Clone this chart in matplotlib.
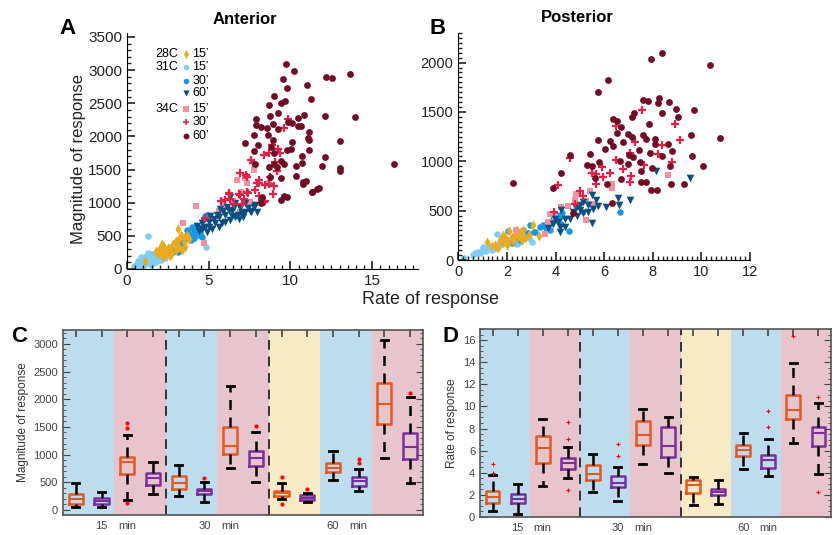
import numpy as np
import matplotlib.pyplot as plt
from matplotlib.ticker import MultipleLocator

plt.rcParams['font.family'] = ['Liberation Sans', 'DejaVu Sans']

# ---------------- panel A (anterior) : rate vs magnitude ----------------
a_28c15_rate = [1.1, 1.8, 1.9, 2.0, 2.1, 2.13, 2.23, 2.3, 2.4, 2.5, 2.64, 2.74, 2.8, 2.95, 3.0,
                3.11, 3.15, 3.2, 3.36, 3.46, 3.5, 3.56, 3.66, 3.8, 2.6, 3.3, 2.2, 3.0]
a_28c15_mag = [120, 277, 230, 320, 260, 377, 186, 290, 230, 320, 302, 236, 380, 362, 280,
               598, 437, 330, 287, 462, 400, 337, 513, 450, 200, 520, 340, 420]

a_31c15_rate = [0.45, 0.6, 0.7, 0.8, 0.9, 1.0, 1.1, 1.2, 1.3, 1.35, 1.5, 1.6, 1.7, 1.8, 1.9,
                2.0, 2.1, 2.2, 2.3, 2.4, 1.45, 1.15, 0.85, 2.5, 4.85, 1.75, 2.6, 1.0, 1.25,
                0.55, 0.75, 0.95, 1.05, 1.4, 1.55, 1.65, 2.05, 2.15, 1.95, 0.65, 1.3]
a_31c15_mag = [40, 60, 90, 120, 80, 140, 100, 160, 503, 120, 180, 140, 220, 170, 200,
               250, 210, 270, 160, 300, 60, 200, 180, 240, 337, 100, 330, 60, 90,
               20, 40, 30, 110, 150, 230, 110, 140, 320, 130, 120, 240]

a_31c30_rate = [2.6, 2.8, 3.0, 3.2, 3.35, 3.5, 3.66, 3.7, 3.87, 3.9, 3.97, 4.07, 4.17, 4.3,
                4.38, 4.45, 4.58, 4.74, 4.89, 4.79, 4.32, 3.3, 3.55, 4.0, 4.2, 2.9, 3.1,
                3.75, 4.1, 4.5, 3.4]
a_31c30_mag = [240, 260, 300, 330, 336, 420, 588, 520, 477, 430, 638, 467, 563, 600,
               508, 540, 487, 749, 814, 799, 628, 380, 470, 520, 650, 330, 250,
               560, 590, 620, 350]

a_31c60_rate = [4.27, 4.58, 4.99, 5.30, 5.60, 6.01, 6.42, 6.11, 6.52, 6.93, 7.24, 7.55, 6.83,
                6.01, 5.60, 5.19, 4.79, 7.03, 7.96, 7.75, 7.24, 6.62, 6.22, 5.81, 5.09, 4.38,
                6.32, 7.6, 7.8, 8.2, 5.9, 5.4, 5.0, 4.6, 6.6, 7.1, 6.3, 5.5, 4.9, 6.8, 5.7,
                7.4, 6.45]
a_31c60_mag = [649, 689, 714, 749, 779, 815, 880, 940, 940, 915, 865, 880, 749,
               714, 638, 598, 638, 840, 865, 940, 990, 1000, 890, 694, 799, 568,
               1091, 865, 960, 1000, 870, 690, 640, 600, 780, 790, 740, 820, 560, 820, 900,
               920, 800]

a_34c15_rate = [3.45, 4.21, 4.74, 5.6, 6.1, 6.5, 6.73, 7.0, 7.34, 7.5, 7.75, 8.71, 6.9, 5.9, 7.2]
a_34c15_mag = [689, 950, 387, 880, 930, 1020, 1342, 1160, 1302, 1015, 1493, 1292, 860, 1000, 1380]

a_34c30_rate = [9.86, 9.63, 8.88, 8.36, 8.67, 9.33, 9.24, 9.04, 7.61, 7.71, 9.18, 8.77, 6.93,
                7.34, 8.06, 8.47, 6.22, 6.83, 7.34, 7.85, 8.06, 5.77, 6.32, 7.14, 8.47, 7.96,
                8.67, 6.26, 6.93, 7.40, 8.92, 6.52, 7.03, 8.36, 4.79, 6.01, 7.27, 8.05, 9.0]
a_34c30_mag = [2257, 2122, 1870, 1719, 1744, 1744, 1805, 1619, 1644, 1594, 1483, 1393, 1453,
               1393, 1302, 1267, 1141, 1131, 1166, 1192, 1101, 1031, 1051, 1051, 1031, 1292,
               1282, 1131, 1116, 1151, 1131, 980, 980, 1015, 765, 1040, 1418, 1347, 1257]

a_34c60_rate = [9.71, 10.22, 9.55, 12.17, 12.56, 13.62, 11.04, 9.80, 9.00, 9.67, 9.43, 11.23,
                8.69, 9.24, 8.73, 10.82, 12.09, 13.93, 7.87, 10.43, 9.82, 10.08, 7.89, 8.20,
                8.55, 8.96, 10.49, 10.67, 9.22, 11.12, 7.79, 8.65, 11.10, 11.12, 8.92, 13.03,
                7.24, 8.00, 8.81, 10.12, 9.80, 10.02, 11.15, 7.79, 9.02, 10.69, 12.09, 7.85,
                8.67, 9.00, 9.41, 9.16, 9.61, 10.35, 10.72, 11.90, 13.00, 13.05, 9.41, 10.31,
                10.92, 10.74, 11.64, 11.29, 16.36, 9.59, 9.80, 8.77, 9.39, 8.26, 10.76, 11.33,
                11.74, 8.22]
a_34c60_mag = [3097, 2986, 2871, 2896, 2881, 2936, 2775, 2725, 2604, 2539, 2499, 2569,
               2469, 2348, 2313, 2318, 2303, 2298, 2267, 2282, 2217, 2197, 2172, 2137,
               2122, 2187, 2162, 2157, 2107, 2066, 2016, 2016, 1971, 1946, 1941, 1935,
               1900, 1875, 1835, 1911, 1795, 1805, 1790, 1784, 1745, 1704, 1689, 1584,
               1543, 1584, 1634, 1543, 1584, 1548, 1604, 1558, 1518, 1473, 1378, 1398,
               1327, 1282, 1212, 1161, 1579, 1106, 1091, 1393, 1041, 1081, 1317, 1166,
               1217, 990]

# ---------------- panel B (posterior) ----------------
b_28c15_rate = [1.16, 1.5, 1.71, 1.92, 2.05, 2.19, 2.33, 2.6, 2.74, 3.08, 3.33, 1.99, 1.37,
                1.64, 1.78, 2.1, 2.4, 2.25, 1.85, 2.55, 2.9, 2.0, 2.45, 2.67]
b_28c15_mag = [186, 152, 203, 220, 176, 230, 254, 203, 220, 356, 240, 203, 138,
               122, 173, 290, 300, 190, 250, 270, 250, 150, 230, 300]

b_31c15_rate = [0.24, 0.68, 0.96, 1.23, 1.5, 1.78, 1.71, 2.05, 2.33, 1.57, 2.53, 3.01, 0.8,
                1.1, 1.35, 1.6, 1.9, 2.2, 2.7, 1.4, 1.0, 2.4, 1.85, 2.9, 0.6, 0.9, 1.15,
                1.45, 1.3]
b_31c15_mag = [24, 68, 95, 119, 142, 163, 186, 203, 230, 261, 186, 186, 80,
               110, 130, 150, 180, 210, 240, 100, 130, 160, 230, 220, 55, 75, 90,
               115, 140]

b_31c30_rate = [2.05, 2.67, 2.85, 3.15, 2.94, 3.83, 3.77, 4.0, 4.24, 4.56, 6.64, 4.27, 4.17,
                4.04, 3.49, 2.54, 2.2, 3.35, 3.1, 2.39, 3.6, 3.9]
b_31c30_mag = [295, 305, 271, 288, 356, 373, 305, 407, 366, 295, 491, 481, 440,
               457, 355, 203, 169, 338, 287, 237, 320, 420]

b_31c60_rate = [8.15, 9.52, 7.08, 6.57, 6.09, 6.6, 5.68, 5.48, 5.48, 5.34, 5.13, 4.99, 4.86,
                4.72, 5.13, 5.55, 5.75, 4.24, 4.38, 3.97, 4.17, 3.7, 3.9, 4.11, 4.38, 4.17,
                5.34, 5.0, 4.9, 4.6]
b_31c60_mag = [898, 830, 610, 627, 542, 559, 610, 661, 372, 559, 583, 508, 525,
               491, 481, 515, 549, 508, 413, 413, 338, 321, 366, 389, 338, 287,
               491, 560, 450, 420]

b_34c15_rate = [8.63, 6.34, 6.34, 4.86, 5.41, 5.27, 4.52, 4.24, 5.13, 5.27, 3.79, 3.7, 3.56,
                2.39, 3.97, 4.79, 5.55]
b_34c15_mag = [857, 773, 732, 671, 695, 593, 549, 542, 491, 406, 467, 389, 264,
               305, 440, 610, 569]

b_34c30_rate = [7.56, 8.93, 6.47, 9.11, 7.26, 8.36, 4.59, 6.48, 7.05, 8.22, 7.63, 8.79, 6.78,
                5.93, 5.66, 6.24, 5.48, 5.96, 7.12, 7.05, 5.66, 4.11, 5.0, 5.13, 4.79, 3.93]
b_34c30_mag = [1517, 1382, 1362, 1213, 1193, 1162, 1033, 1016, 1084, 1077, 966, 990, 922,
               946, 871, 885, 878, 844, 851, 793, 773, 762, 695, 644, 569, 491]

b_34c60_rate = [8.36, 7.92, 10.34, 6.16, 5.75, 7.60, 7.81, 8.26, 8.66, 8.22, 8.97, 8.36, 9.68,
                9.04, 6.37, 6.51, 7.15, 7.22, 6.68, 7.85, 6.51, 5.75, 6.23, 6.78, 6.05, 6.37,
                6.98, 7.16, 7.60, 7.71, 8.08, 8.08, 8.63, 9.59, 10.78, 8.77, 7.42, 7.87, 8.36,
                9.62, 7.03, 7.19, 7.46, 6.64, 6.98, 7.53, 7.98, 8.70, 10.07, 5.41, 5.48, 5.80,
                5.31, 5.61, 6.71, 6.10, 7.53, 7.74, 7.94, 8.18, 8.74, 9.29, 4.60, 4.24, 3.90,
                2.26, 6.34, 4.72]
b_34c60_mag = [2100, 2039, 1973, 1823, 1700, 1619, 1609, 1643, 1599, 1589, 1534, 1490, 1517,
               1449, 1430, 1406, 1449, 1490, 1348, 1378, 1287, 1220, 1203, 1196, 1125, 1159,
               1273, 1250, 1264, 1223, 1223, 1172, 1172, 1264, 1233, 1101, 1111, 1084, 1050,
               1050, 1067, 1040, 993, 1000, 973, 898, 932, 949, 949, 1077, 949, 990,
               966, 830, 820, 773, 786, 786, 711, 711, 773, 773, 1064, 878, 732,
               779, 576, 474]

# ---------------- panels C / D : box statistics, positions 1..14 ----------------
box_pos = list(range(1, 15))
mag_lo = [60, 60, 181, 289, 253, 150, 753, 512, 193, 139, 542, 337, 940, 494]
mag_q1 = [108, 108, 645, 452, 373, 289, 1006, 795, 253, 175, 681, 440, 1554, 922]
mag_med = [199, 157, 873, 572, 482, 337, 1157, 934, 301, 223, 765, 524, 1916, 1145]
mag_q3 = [289, 211, 964, 675, 620, 386, 1506, 1072, 349, 265, 843, 602, 2289, 1398]
mag_hi = [494, 319, 1349, 873, 813, 512, 2247, 1404, 482, 313, 1072, 747, 3072, 2048]
mag_out = [[], [], [1566, 1476, 120], [], [], [572], [], [1524], [602, 114], [386], [],
           [928, 855], [], [2108]]

rate_lo = [0.51, 0.30, 2.81, 3.56, 2.26, 1.45, 4.77, 3.98, 1.06, 1.21, 4.32, 3.68, 6.73, 3.92]
rate_q1 = [1.27, 1.27, 4.89, 4.32, 3.32, 2.72, 6.55, 5.43, 2.20, 1.96, 5.49, 4.44, 8.85, 6.40]
rate_med = [1.81, 1.66, 6.28, 4.89, 3.92, 3.08, 7.46, 6.43, 2.93, 2.26, 6.04, 5.13, 9.66, 7.60]
rate_q3 = [2.35, 2.05, 7.30, 5.37, 4.68, 3.71, 8.66, 8.15, 3.32, 2.57, 6.55, 5.58, 11.02, 8.15]
rate_hi = [3.77, 3.02, 8.90, 6.34, 5.74, 4.53, 9.81, 9.06, 3.62, 3.32, 7.64, 7.09, 13.95, 10.32]
rate_out = [[4.83, 3.98], [], [], [8.6, 7.09, 2.42], [], [6.58, 5.49], [], [], [], [],
            [], [9.57, 8.15], [16.4], [10.81, 2.26]]

xtick_text = ['', '15', 'min', '', '', '30', 'min', '', '', '', '60', 'min', '', '']
bands = [(0.5, 2.5, 'blue'), (2.5, 4.5, 'pink'), (4.5, 6.5, 'blue'), (6.5, 8.5, 'pink'),
         (8.5, 10.5, 'yellow'), (10.5, 12.5, 'blue'), (12.5, 14.5, 'pink')]
band_col = {'blue': '#bfdcee', 'pink': '#e8c5cc', 'yellow': '#f8eac6'}

C_YEL = '#ebaa1f'
C_LBL = '#80cdf7'
C_MBL = '#1a98e8'
C_DBL = '#0c4f80'
C_PNK = '#f0929f'
C_RED = '#e52049'
C_DRD = '#700d24'
ORANGE = '#e05a22'
PURPLE = '#7b2f9c'

W, H = 833, 535
fig = plt.figure(figsize=(W / 100, H / 100), dpi=100)


def px_axes(l, r, t, b):
    return fig.add_axes([l / W, 1 - b / H, (r - l) / W, (b - t) / H])


def scatter_panel(ax, d):
    ax.scatter(d[2], d[3], s=22, marker='o', color=C_LBL, linewidths=0)
    ax.scatter(d[4], d[5], s=22, marker='o', color=C_MBL, linewidths=0)
    ax.scatter(d[0], d[1], s=26, marker='d', color=C_YEL, linewidths=0)
    ax.scatter(d[8], d[9], s=22, marker='s', color=C_PNK, linewidths=0)
    ax.scatter(d[6], d[7], s=30, marker='v', color=C_DBL, linewidths=0)
    ax.scatter(d[10], d[11], s=36, marker='+', color=C_RED, linewidths=1.6)
    ax.scatter(d[12], d[13], s=24, marker='o', color=C_DRD, linewidths=0)
    for s in ['top', 'right']:
        ax.spines[s].set_visible(False)
    ax.tick_params(which='both', direction='in', labelsize=11, colors='#222222')
    ax.tick_params(which='major', length=6, width=1.2)
    ax.tick_params(which='minor', length=3, width=1)


axA = px_axes(127, 418, 33, 269)
scatter_panel(axA, [a_28c15_rate, a_28c15_mag, a_31c15_rate, a_31c15_mag, a_31c30_rate,
                    a_31c30_mag, a_31c60_rate, a_31c60_mag, a_34c15_rate, a_34c15_mag,
                    a_34c30_rate, a_34c30_mag, a_34c60_rate, a_34c60_mag])
axA.set_xlim(0, 17.8)
axA.set_ylim(0, 3560)
axA.xaxis.set_major_locator(MultipleLocator(5))
axA.xaxis.set_minor_locator(MultipleLocator(0.5))
axA.yaxis.set_major_locator(MultipleLocator(500))
axA.yaxis.set_minor_locator(MultipleLocator(100))

# legend drawn by hand inside panel A
leg_rows = [0.910, 0.857, 0.798, 0.744, 0.679, 0.624, 0.565]
leg_mk = [('d', C_YEL, 20), ('o', C_LBL, 16), ('o', C_MBL, 16), ('v', C_DBL, 20),
          ('s', C_PNK, 16), ('+', C_RED, 24), ('o', C_DRD, 18)]
leg_txt = ["15’", "15’", "30’", "60’", "15’", "30’", "60’"]
for yy, (m, c, sz), t in zip(leg_rows, leg_mk, leg_txt):
    axA.scatter([0.203], [yy], transform=axA.transAxes, marker=m, color=c, s=sz,
                linewidths=1.2 if m == '+' else 0, clip_on=False)
    axA.text(0.225, yy, t, transform=axA.transAxes, fontsize=9, va='center', ha='left')
for yy, t in [(leg_rows[0], '28C'), (leg_rows[1], '31C'), (leg_rows[4], '34C')]:
    axA.text(0.177, yy, t, transform=axA.transAxes, fontsize=9, va='center', ha='right')

axB = px_axes(458.4, 750, 33, 260)
scatter_panel(axB, [b_28c15_rate, b_28c15_mag, b_31c15_rate, b_31c15_mag, b_31c30_rate,
                    b_31c30_mag, b_31c60_rate, b_31c60_mag, b_34c15_rate, b_34c15_mag,
                    b_34c30_rate, b_34c30_mag, b_34c60_rate, b_34c60_mag])
axB.set_xlim(0, 12)
axB.set_ylim(0, 2300)
axB.xaxis.set_major_locator(MultipleLocator(2))
axB.xaxis.set_minor_locator(MultipleLocator(0.2))
axB.yaxis.set_major_locator(MultipleLocator(500))
axB.yaxis.set_minor_locator(MultipleLocator(50))
axB.tick_params(labelsize=10.5)


def box_panel(ax, lo, q1, med, q3, hi, out, flier_mk, flier_sz):
    for a, b, k in bands:
        ax.axvspan(a, b, color=band_col[k], lw=0, zorder=0)
    for xv in (4.5, 8.5):
        ax.axvline(xv, color='#333333', lw=1.4, ls=(0, (5, 3.5)), zorder=1)
    stats = [dict(whislo=lo[i], q1=q1[i], med=med[i], q3=q3[i], whishi=hi[i], fliers=out[i])
             for i in range(len(lo))]
    for i, st in enumerate(stats):
        col = ORANGE if i % 2 == 0 else PURPLE
        ax.bxp([st], positions=[box_pos[i]], widths=0.55, showfliers=True,
               boxprops=dict(color=col, lw=1.8),
               medianprops=dict(color=col, lw=1.5),
               whiskerprops=dict(color='black', lw=1.8, ls=(0, (4, 3))),
               capprops=dict(color='black', lw=2),
               flierprops=dict(marker=flier_mk, markersize=flier_sz, markeredgecolor='red',
                               markerfacecolor='red', markeredgewidth=0.8),
               capwidths=0.28, manage_ticks=False)
    ax.set_xlim(0.5, 14.5)
    ax.set_xticks(box_pos)
    ax.set_xticklabels(xtick_text)
    ax.tick_params(axis='x', bottom=False, top=True, direction='in', length=5, width=1.2,
                   labelsize=8, colors='#444444', pad=4)
    ax.tick_params(axis='y', which='both', left=True, right=True, direction='in',
                   labelsize=8, colors='#444444')
    ax.tick_params(axis='y', which='major', length=5)
    ax.tick_params(axis='y', which='minor', length=2.5)
    for s in ax.spines.values():
        s.set_color('#555555')
        s.set_linewidth(1.2)


axC = px_axes(63, 423, 330, 515)
box_panel(axC, mag_lo, mag_q1, mag_med, mag_q3, mag_hi, mag_out, 'o', 2.2)
axC.set_ylim(-90, 3250)
axC.yaxis.set_major_locator(MultipleLocator(500))
axC.yaxis.set_minor_locator(MultipleLocator(100))
axC.set_ylabel('Magnitude of response', fontsize=8.5, color='#333333', labelpad=3)

axD = px_axes(480, 831, 329, 517)
box_panel(axD, rate_lo, rate_q1, rate_med, rate_q3, rate_hi, rate_out, '+', 3)
axD.set_ylim(0, 17)
axD.yaxis.set_major_locator(MultipleLocator(2))
axD.yaxis.set_minor_locator(MultipleLocator(0.5))
axD.set_ylabel('Rate of response', fontsize=8.5, color='#333333', labelpad=3)

# figure texts
fig.text(78 / W, 1 - 159 / H, 'Magnitude of response', rotation=90, fontsize=12,
         ha='center', va='center', color='#222222')
fig.text(431 / W, 1 - 300 / H, 'Rate of response', fontsize=13, ha='center', va='center',
         color='#222222')
fig.text(245 / W, 1 - 20 / H, 'Anterior', fontsize=12, fontweight='bold', ha='center',
         va='center')
fig.text(577 / W, 1 - 17 / H, 'Posterior', fontsize=12, fontweight='bold', ha='center',
         va='center')
for x0, y0, t in [(67, 29, 'A'), (438, 29, 'B'), (19, 336, 'C'), (451, 337, 'D')]:
    fig.text(x0 / W, 1 - y0 / H, t, fontsize=16, fontweight='bold', ha='center', va='center')

fig.savefig('out.png', dpi=100)
